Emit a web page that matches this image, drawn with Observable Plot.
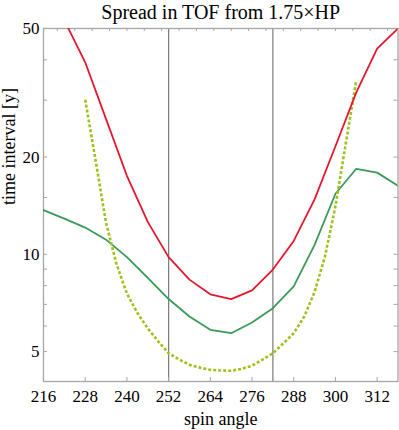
<!DOCTYPE html>
<html><head><meta charset="utf-8">
<script src="https://cdn.jsdelivr.net/npm/d3@7"></script>
<script src="https://cdn.jsdelivr.net/npm/@observablehq/plot@0.6"></script>
<style>body{margin:0;background:#fff;}</style>
</head><body><div id="chart"></div>
<script>
// spin angles (every 6 degrees)
const angles = [216,222,228,234,240,246,252,258,264,270,276,282,288,294,300,306,312,318];
// red solid series (null = off chart)
const redTof = [null,53,39.3,26.2,17.5,12.6,9.8,8.35,7.52,7.27,7.73,8.97,11.0,14.8,21.6,31.7,43.3,50];
// green solid series
const greenTof = [13.7,12.9,12.1,11.1,9.8,8.45,7.27,6.42,5.84,5.70,6.15,6.81,7.96,10.7,15.4,18.4,17.9,16.3];
// dotted series (every 3 degrees)
const dotAngles = [228,231,234,237,240,243,246,249,252,255,258,261,264,267,270,273,276,279,282,285,288,291,294,297,300,303,306];
const dotTof = [30.1,19.5,12.5,9.33,7.56,6.59,5.90,5.38,4.94,4.73,4.55,4.46,4.39,4.37,4.36,4.42,4.52,4.72,4.94,5.30,5.70,6.41,7.65,9.86,14.1,22.1,34.6];
// reference angles
const markers = [252,282];
// ticks
const xTicks = [216,228,240,252,264,276,288,300,312];
const xTopTicks = [220,225,230,235,240,245,250,255,260,265,270,275,280,285,290,295,300,305,310,315];
const yMajor = [5,10,20,50];
const yMinor = [6,7,8,9,15,30,40];
const title = "Spread in TOF from 1.75×HP";
const xLabel = "spin angle";
const yLabel = "time interval [y]";

const W = 399, H = 430, mL = 43, mR = 1.5, mT = 28, mB = 49;
const pw = W - mL - mR, ph = H - mT - mB;
const frameColor = "#a6a6a6";
const yAll = [...yMajor, ...yMinor];

const chart = Plot.plot({
  width: W, height: H,
  marginLeft: mL, marginRight: mR, marginTop: mT, marginBottom: mB,
  style: {fontFamily: "'Liberation Serif', serif", fontSize: "17px", color: "#000", background: "#fff"},
  x: {domain: [216, 318]},
  y: {type: "log", domain: [4.04, 50]},
  marks: [
    Plot.ruleX(markers, {stroke: "#7a7a7a", strokeWidth: 1.2}),
    Plot.frame({stroke: frameColor, strokeWidth: 1.3}),
    Plot.tickX(xTicks, {x: d => d, stroke: frameColor, insetTop: ph - 4}),
    Plot.tickX(xTopTicks, {x: d => d, stroke: frameColor, insetBottom: ph - 3}),
    Plot.tickY(yAll, {y: d => d, stroke: frameColor, insetRight: pw - 4}),
    Plot.tickY(yAll, {y: d => d, stroke: frameColor, insetLeft: pw - 4}),
    Plot.axisX(xTicks, {tickSize: 0, tickPadding: 8, label: null, fontSize: 17}),
    Plot.axisY(yMajor, {tickSize: 0, tickPadding: 4, label: null, fontSize: 17, tickFormat: d => String(d)}),
    Plot.line(angles, {x: angles, y: greenTof, stroke: "#3b9a57", strokeWidth: 1.8, clip: true}),
    Plot.line(dotAngles, {x: dotAngles, y: dotTof, stroke: "#9cc31c", strokeWidth: 2.6, strokeDasharray: "3,2", strokeLinecap: "butt", strokeLinejoin: "miter", clip: true}),
    Plot.line(angles, {x: angles, y: redTof, stroke: "#e5172d", strokeWidth: 1.8, clip: true}),
    Plot.text([title], {frameAnchor: "top", lineAnchor: "middle", dy: -16, fontSize: 20, text: d => d}),
    Plot.text([xLabel], {frameAnchor: "bottom", lineAnchor: "middle", dy: 38, fontSize: 18, text: d => d}),
    Plot.text([yLabel], {frameAnchor: "left", lineAnchor: "middle", dx: -34, rotate: -90, fontSize: 18, text: d => d})
  ]
});
document.getElementById("chart").appendChild(chart);
</script>
</body></html>
